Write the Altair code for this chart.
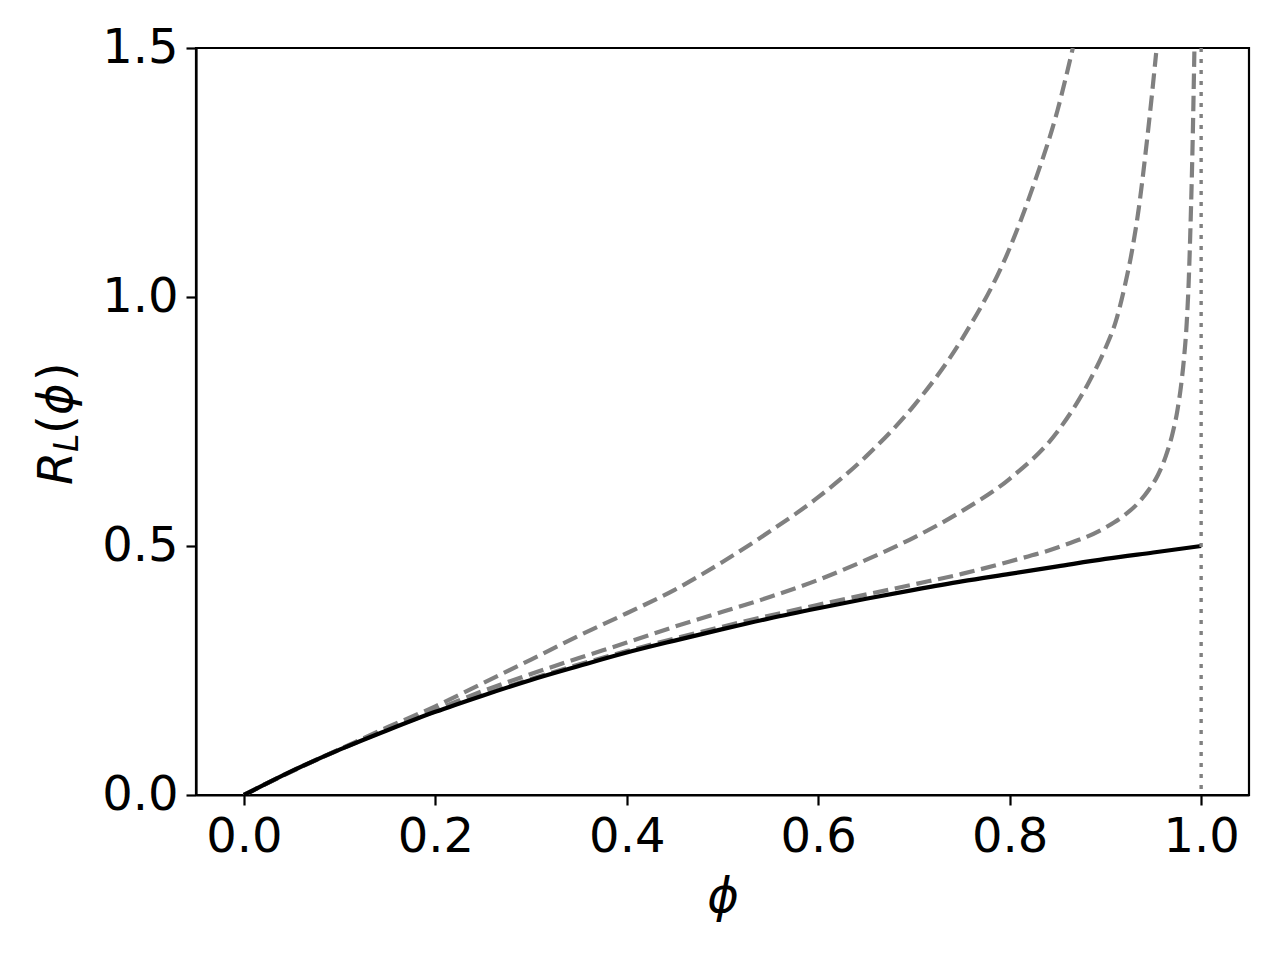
import altair as alt
import pandas as pd

# ---- data ----
phi_solid = [0.0, 0.05, 0.1, 0.15, 0.2, 0.25, 0.3, 0.35, 0.4, 0.45, 0.5,
             0.55, 0.6, 0.65, 0.7, 0.75, 0.8, 0.85, 0.9, 0.95, 1.0]
R_solid = [0.0, 0.048, 0.091, 0.130, 0.167, 0.200, 0.231, 0.259, 0.286, 0.310, 0.333,
           0.355, 0.375, 0.394, 0.412, 0.429, 0.444, 0.459, 0.474, 0.487, 0.500]

phi_a = [0.0, 0.05, 0.1, 0.15, 0.2, 0.25, 0.3, 0.35, 0.4, 0.45, 0.5, 0.55, 0.6,
         0.65, 0.7, 0.75, 0.8, 0.825, 0.85, 0.866]
R_a = [0.0, 0.048, 0.092, 0.136, 0.178, 0.225, 0.272, 0.320, 0.365, 0.412, 0.468, 0.530, 0.598,
       0.680, 0.782, 0.915, 1.098, 1.225, 1.375, 1.500]

phi_b = [0.0, 0.05, 0.1, 0.15, 0.2, 0.25, 0.3, 0.35, 0.4, 0.45, 0.5, 0.55, 0.6, 0.65,
         0.7, 0.75, 0.8, 0.85, 0.883, 0.9, 0.911, 0.92, 0.928, 0.935, 0.942, 0.948, 0.953]
R_b = [0.0, 0.048, 0.091, 0.132, 0.171, 0.209, 0.243, 0.275, 0.306, 0.338, 0.368, 0.398, 0.432, 0.472,
       0.517, 0.570, 0.635, 0.730, 0.830, 0.897, 0.952, 1.020, 1.095, 1.180, 1.290, 1.395, 1.490]

phi_c = [0.0, 0.1, 0.2, 0.3, 0.4, 0.5, 0.6, 0.7, 0.75, 0.8, 0.85, 0.9, 0.92, 0.935, 0.945,
         0.955, 0.963, 0.97, 0.975, 0.979, 0.982, 0.985, 0.987, 0.989, 0.991, 0.993]
R_c = [0.0, 0.0915, 0.168, 0.233, 0.289, 0.338, 0.382, 0.423, 0.444, 0.469, 0.497, 0.537, 0.562, 0.588, 0.612,
       0.643, 0.680, 0.725, 0.770, 0.822, 0.875, 0.950, 1.030, 1.150, 1.300, 1.500]

phi_limit = [1.0]

x_ticks = [0.0, 0.2, 0.4, 0.6, 0.8, 1.0]
y_ticks = [0.0, 0.5, 1.0, 1.5]

# ---- tables ----
solid_df = pd.DataFrame({"phi": phi_solid, "R": R_solid})
dashed_df = pd.concat([
    pd.DataFrame({"phi": phi_a, "R": R_a, "series": "a"}),
    pd.DataFrame({"phi": phi_b, "R": R_b, "series": "b"}),
    pd.DataFrame({"phi": phi_c, "R": R_c, "series": "c"}),
], ignore_index=True)
limit_df = pd.DataFrame({"phi": phi_limit})

FONT = "DejaVu Sans"
FS = 48
W, H = 1053, 747

xscale = alt.Scale(domain=[-0.05, 1.05], nice=False, zero=False)
yscale = alt.Scale(domain=[0, 1.5], nice=False)

xaxis = alt.Axis(values=x_ticks, format=".1f", title="ϕ", titleFontStyle="italic",
                 titleFontWeight="normal", titleFontSize=FS, titleFont=FONT,
                 titlePadding=12)
yaxis = alt.Axis(values=y_ticks, format=".1f", title=None)

dashed = alt.Chart(dashed_df).mark_line(
    color="#808080", strokeWidth=4.2, strokeDash=[15.4, 6.7], interpolate="monotone", clip=True
).encode(
    x=alt.X("phi:Q", scale=xscale, axis=xaxis),
    y=alt.Y("R:Q", scale=yscale, axis=yaxis),
    detail="series:N",
    order="phi:Q",
)

solid = alt.Chart(solid_df).mark_line(
    color="black", strokeWidth=4.2, interpolate="monotone", clip=True
).encode(
    x=alt.X("phi:Q", scale=xscale),
    y=alt.Y("R:Q", scale=yscale),
    order="phi:Q",
)

limit = alt.Chart(limit_df).mark_rule(
    color="#808080", strokeWidth=3.4, strokeDash=[4.0, 7.0]
).encode(x=alt.X("phi:Q", scale=xscale))

one = pd.DataFrame({"k": [0]})


def piece(txt, x, y, size, style):
    return alt.Chart(one).mark_text(
        text=txt, angle=270, align="left", baseline="alphabetic",
        font=FONT, fontSize=size, fontStyle=style, color="black"
    ).encode(x=alt.value(x), y=alt.value(y))


ytitle = (
    piece("R", -124, 437, FS, "italic")
    + piece("L", -118, 404, 33, "italic")
    + piece("(", -124, 386, FS, "normal")
    + piece("ϕ", -124, 367, FS, "italic")
    + piece(")", -124, 333, FS, "normal")
)

chart = alt.layer(dashed, solid, limit, ytitle).properties(
    width=W, height=H,
    autosize=alt.AutoSizeParams(type="none"),
    padding={"left": 188, "top": 40, "right": 23, "bottom": 150},
).configure_view(
    stroke="black", strokeWidth=2.2
).configure_axis(
    grid=False, domainColor="black", domainWidth=2.2,
    tickColor="black", tickWidth=2.2, tickSize=10,
    labelFont=FONT, labelFontSize=FS, labelColor="black", labelPadding=8,
    titleColor="black",
)

chart.save("out.html", embed_options={"renderer": "svg", "actions": False})
